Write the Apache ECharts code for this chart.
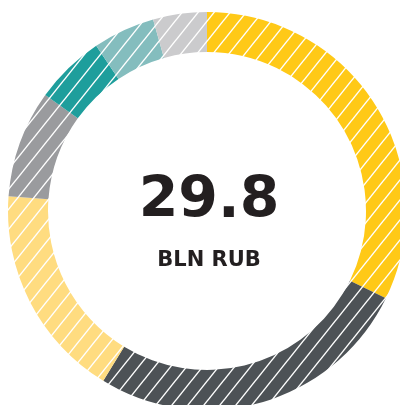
<!DOCTYPE html>
<html>
<head>
<meta charset="utf-8">
<script src="https://cdn.jsdelivr.net/npm/echarts@6/dist/echarts.min.js"></script>
<style>
  html, body { margin: 0; padding: 0; background: #ffffff; }
  #chart { width: 400px; height: 405px; }
</style>
</head>
<body>
<div id="chart"></div>
<script>
// Revenue split, billions of roubles (clockwise from 12 o'clock)
const segmentNames = ['A', 'B', 'C', 'D', 'E', 'F', 'G'];
const segmentValues = [9.6, 7.9, 5.2, 2.6, 1.7, 1.5, 1.3];
const segmentColors = ['#FFC917', '#4D5256', '#FFDC80', '#9A9B9E', '#1E9E9C', '#84BDBE', '#CBCBCD'];
const totalLabel = '29.8';
const unitLabel = 'BLN RUB';

// Solid fill with thin white diagonal hatching (rising to the right, ~51 deg)
function hatch(color) {
  const w = 16, h = 20;
  const c = document.createElement('canvas');
  c.width = w; c.height = h;
  const ctx = c.getContext('2d');
  ctx.fillStyle = color;
  ctx.fillRect(0, 0, w, h);
  ctx.strokeStyle = '#ffffff';
  ctx.lineWidth = 1.4;
  const xAt = (k, y) => w * (1 + k) - w * y / h;
  for (const k of [-1, 0, 1]) {
    ctx.beginPath();
    ctx.moveTo(xAt(k, h + 3), h + 3);
    ctx.lineTo(xAt(k, -3), -3);
    ctx.stroke();
  }
  return { image: c, repeat: 'repeat' };
}

const chart = echarts.init(document.getElementById('chart'), null, { renderer: 'canvas' });
chart.setOption({
  animation: false,
  series: [{
    type: 'pie',
    center: [207, 211],
    radius: [159, 199],
    startAngle: 90,
    clockwise: true,
    label: { show: false },
    labelLine: { show: false },
    emphasis: { disabled: true },
    data: segmentNames.map((n, i) => ({
      name: n,
      value: segmentValues[i],
      itemStyle: { color: hatch(segmentColors[i]) }
    }))
  }],
  graphic: [
    {
      type: 'text',
      style: {
        text: totalLabel,
        x: 209, y: 202,
        textAlign: 'center', textVerticalAlign: 'middle',
        font: 'bold 57px "DejaVu Sans"',
        fill: '#231F20'
      }
    },
    {
      type: 'text',
      style: {
        text: unitLabel,
        x: 209, y: 261,
        textAlign: 'center', textVerticalAlign: 'middle',
        font: 'bold 21px "DejaVu Sans"',
        fill: '#231F20'
      }
    }
  ]
});
</script>
</body>
</html>
